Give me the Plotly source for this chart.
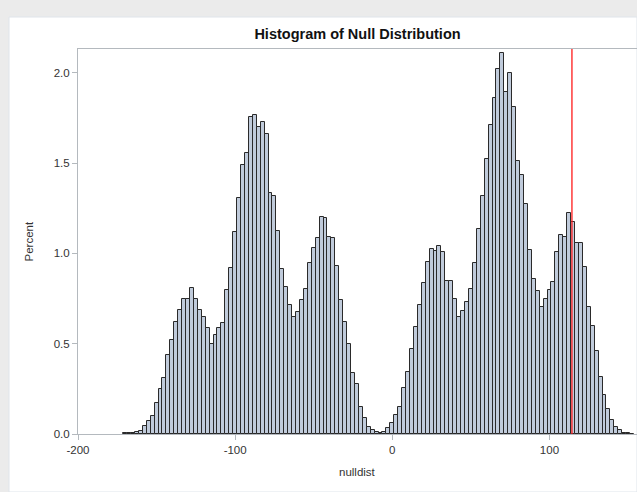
import plotly.graph_objects as go

# ---- data (percent per bin, bin width 2.5, midpoints from -170 to 152.5) ----
bin_first_mid = -170.0
bin_width = 2.5
percent = [
    0.004, 0.006, 0.008, 0.013, 0.018, 0.043, 0.072, 0.098, 0.170, 0.250,
    0.312, 0.436, 0.520, 0.620, 0.686, 0.745, 0.750, 0.808, 0.746, 0.686,
    0.649, 0.589, 0.500, 0.546, 0.589, 0.612, 0.797, 0.920, 1.116, 1.304,
    1.490, 1.558, 1.756, 1.765, 1.702, 1.725, 1.658, 1.335, 1.319, 1.123,
    0.916, 0.812, 0.714, 0.649, 0.673, 0.742, 0.800, 0.945, 1.028, 1.085,
    1.199, 1.195, 1.089, 1.085, 0.930, 0.742, 0.618, 0.498, 0.336, 0.275,
    0.148, 0.087, 0.041, 0.024, 0.010, 0.007, 0.013, 0.031, 0.059, 0.105,
    0.151, 0.253, 0.345, 0.469, 0.594, 0.714, 0.837, 0.950, 1.024, 1.013,
    1.042, 1.009, 0.847, 0.847, 0.745, 0.649, 0.682, 0.732, 0.802, 0.945,
    1.136, 1.315, 1.520, 1.710, 1.858, 2.020, 2.107, 1.895, 1.996, 1.808,
    1.512, 1.435, 1.273, 1.018, 0.856, 0.793, 0.705, 0.746, 0.797, 0.840,
    1.005, 1.103, 1.088, 1.221, 1.175, 1.057, 1.057, 0.923, 0.705, 0.596,
    0.457, 0.314, 0.218, 0.140, 0.080, 0.040, 0.020, 0.008, 0.004, 0.002,
]
midpoints = [bin_first_mid + i * bin_width for i in range(len(percent))]
observed_stat = 114.3

x_ticks = [-200, -100, 0, 100]
y_ticks = [0.0, 0.5, 1.0, 1.5, 2.0]

title_text = "Histogram of Null Distribution"
x_label = "nulldist"
y_label = "Percent"

FONT = "Arial, Liberation Sans, Helvetica, sans-serif"
AXIS_COLOR = "#b4b9be"

fig = go.Figure()
fig.add_trace(go.Bar(
    x=midpoints, y=percent, width=bin_width,
    marker=dict(color="#c0cbdb", line=dict(color="#2a2a2a", width=1)),
    hoverinfo="x+y", showlegend=False,
))

fig.add_shape(type="line", xref="x", yref="paper", x0=observed_stat, x1=observed_stat,
              y0=0, y1=1, line=dict(color="#ff1a1a", width=1.3), layer="above")

# white panel over the grey page background
fig.add_shape(type="rect", xref="paper", yref="paper",
              x0=(9 - 78) / 559, x1=1.0, y0=(434 - 492) / 385, y1=(434 - 17) / 385,
              fillcolor="white", line=dict(color="#dfe4ea", width=1), layer="below")

fig.update_layout(
    width=637, height=492,
    margin=dict(l=78, r=0, t=49, b=58, autoexpand=False),
    paper_bgcolor="#ebebeb", plot_bgcolor="white",
    bargap=0,
    font=dict(family=FONT, size=11, color="#333333"),
    title=dict(text="<b>" + title_text + "</b>", x=(357.5 / 637), xanchor="center",
               y=1 - 34 / 492, yanchor="middle",
               font=dict(family=FONT, size=14.5, color="#111111")),
    xaxis=dict(range=[-200, 155.7], tickvals=x_ticks, ticktext=[str(v) for v in x_ticks],
               showgrid=False, zeroline=False, showline=True, linecolor=AXIS_COLOR,
               linewidth=1, mirror=True, ticks="outside", ticklen=5, tickcolor=AXIS_COLOR,
               tickfont=dict(size=11.5, color="#333333")),
    yaxis=dict(range=[0, 2.131], tickvals=y_ticks, tickformat=".1f",
               showgrid=False, zeroline=False, showline=True, linecolor=AXIS_COLOR,
               linewidth=1, mirror=False, ticks="outside", ticklen=5, tickcolor=AXIS_COLOR,
               tickfont=dict(size=11.5, color="#333333")),
    annotations=[
        dict(text=x_label, xref="paper", yref="paper", x=0.5, y=(434 - 472) / 385,
             showarrow=False, xanchor="center", yanchor="middle",
             font=dict(family=FONT, size=11.5, color="#333333")),
        dict(text=y_label, xref="paper", yref="paper", x=(28 - 78) / 559, y=0.5,
             textangle=-90, showarrow=False, xanchor="center", yanchor="middle",
             font=dict(family=FONT, size=11.5, color="#333333")),
    ],
)

fig.write_html("out.html", config={"displayModeBar": False},
               post_script="document.body.style.margin='0px';document.body.style.overflow='hidden';")
